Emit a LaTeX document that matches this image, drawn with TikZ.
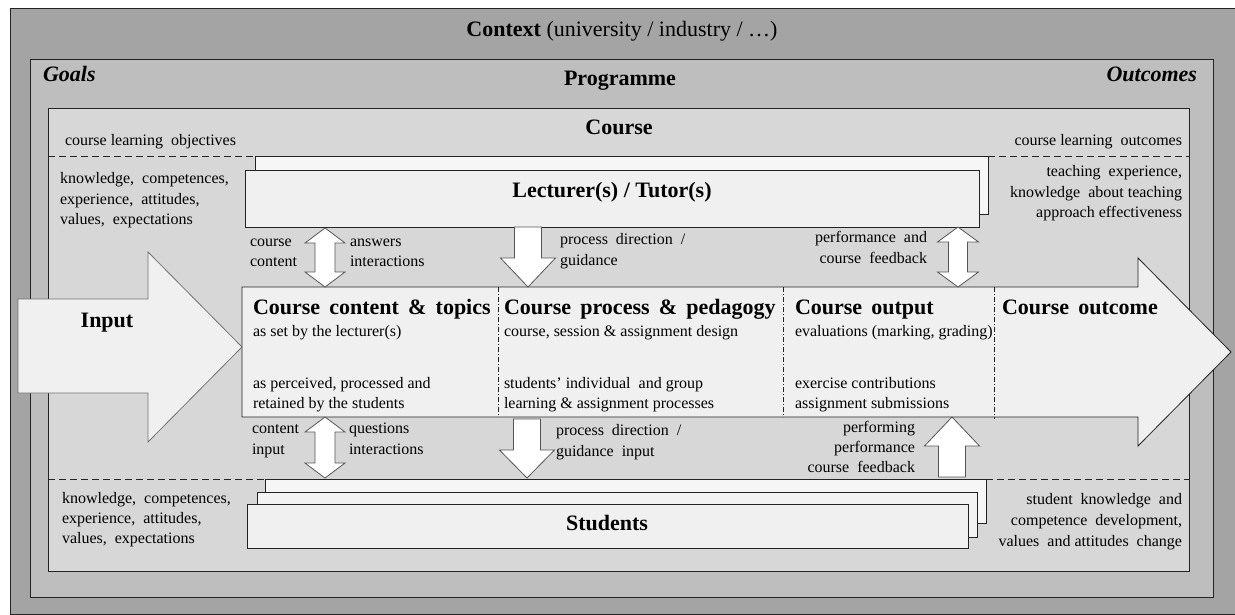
\documentclass[tikz,border=0pt]{standalone}
\usepackage{fontspec}
\setmainfont{Liberation Serif}
\usetikzlibrary{fit}
\definecolor{ctxc}{RGB}{164,164,164}
\definecolor{progc}{RGB}{190,190,190}
\definecolor{coursec}{RGB}{215,215,215}
\definecolor{boxc}{RGB}{240,240,240}
\definecolor{lnc}{RGB}{35,35,35}
\definecolor{arc}{RGB}{85,85,85}
% block arrows: x, ytop, ytip, shaft half, head half, head length
\newcommand\blkdown[6]{\draw[blk] (#1-#4,#2) -- (#1+#4,#2) -- (#1+#4,#3-#6) -- (#1+#5,#3-#6) -- (#1,#3) -- (#1-#5,#3-#6) -- (#1-#4,#3-#6) -- cycle;}
\newcommand\blkup[6]{\draw[blk] (#1,#2) -- (#1+#5,#2+#6) -- (#1+#4,#2+#6) -- (#1+#4,#3) -- (#1-#4,#3) -- (#1-#4,#2+#6) -- (#1-#5,#2+#6) -- cycle;}
\newcommand\blkboth[6]{\draw[blk] (#1,#2) -- (#1+#5,#2+#6) -- (#1+#4,#2+#6) -- (#1+#4,#3-#6) -- (#1+#5,#3-#6) -- (#1,#3) -- (#1-#5,#3-#6) -- (#1-#4,#3-#6) -- (#1-#4,#2+#6) -- (#1-#5,#2+#6) -- cycle;}
\begin{document}
\begin{tikzpicture}[x=1pt,y=-1pt,
  every node/.style={inner sep=0pt, outer sep=0pt},
  band/.style={draw=lnc, line width=0.9pt},
  rbox/.style={draw=lnc, fill=boxc, line width=0.8pt},
  blk/.style={draw=arc, fill=white, line width=0.8pt, line join=miter},
  sepline/.style={draw=lnc, dash pattern=on 7pt off 4pt, line width=0.9pt},
  divline/.style={draw=lnc, dash pattern=on 5pt off 2pt on 1pt off 2pt, line width=0.5pt},
  txt/.style={font=\fontsize{16}{20}\selectfont},
  txtw/.style={font=\fontsize{16}{21}\selectfont},
  ttl/.style={font=\fontsize{22}{26}\selectfont\bfseries}]
\useasboundingbox (0,0) rectangle (1235,615);
\fill[white] (0,0) rectangle (1235,615);
% bands
\node (ctx) [band, fill=ctxc, fit={(10,8) (1240,614)}] {};
\node (prog) [band, fill=progc, fit={(30,59) (1213,597)}] {};
\node (course) [band, fill=coursec, fit={(48,108) (1189,571)}] {};
% dashed separators
\coordinate (sepTL) at (48,156);
\coordinate (sepTR) at (1189,156);
\coordinate (sepBL) at (48,479);
\coordinate (sepBR) at (1189,479);
% lecturer boxes
\node (lectback) [rbox, fill=boxc!60!white, fit={(255,156) (988,214)}] {};
\node (lect) [rbox, fit={(245,170) (979,227)}] {};
\draw[sepline] (sepTL) -- (lectback.north west);
\draw[sepline] (lectback.north east) -- (sepTR);
% students boxes
\node (studback) [rbox, fill=boxc!60!white, fit={(265,479) (986,523)}] {};
\node (studmid) [rbox, fill=boxc!80!white, fit={(257,492) (977,537)}] {};
\node (stud) [rbox, fit={(247,504) (968,548)}] {};
\draw[sepline] (sepBL) -- (studback.north west);
\draw[sepline] (studback.north east) -- (sepBR);
% central course arrow
\draw[draw=lnc, fill=boxc, line width=0.8pt] (242,287) coordinate (cnw) -- (1138,287) -- (1138,258) -- (1231,352) coordinate (ctip) -- (1138,446) -- (1138,417) -- (242,417) coordinate (csw) -- cycle;
\coordinate (d1t) at (498,287); \coordinate (d1b) at (498,417);
\coordinate (d2t) at (783,287); \coordinate (d2b) at (783,417);
\coordinate (d3t) at (994,287); \coordinate (d3b) at (994,419);
\draw[divline] (d1t) -- (d1b);
\draw[divline] (d2t) -- (d2b);
\draw[divline] (d3t) -- (d3b);
% input arrow
\draw[draw=black!55, fill=boxc, line width=0.8pt] (18,299) -- (148,299) -- (148,252) -- (242,347) coordinate (intip) -- (148,442) -- (148,393) -- (18,393) -- cycle;
% block arrows between lecturer / course / students
\blkboth{325}{228}{287}{10}{20}{15}
\blkdown{528}{227}{287}{13.5}{27.5}{29}
\blkboth{958}{227}{287}{9.5}{20.5}{15}
\blkboth{325}{417}{478}{10}{20}{15}
\blkdown{527}{419}{478}{13.5}{27.5}{28}
\blkup{952}{417}{477}{13.5}{27.5}{29}
% titles
\node (tctx) [anchor=base] at (622,37) {\fontsize{22}{26}\selectfont\textbf{Context} (university / industry / …)};
\node (tprog) [ttl, anchor=base] at (620,86) {Programme};
\node (tcourse) [ttl, anchor=base] at (619,135) {Course};
\node (tgoals) [ttl, anchor=base west] at (43,82) {\itshape Goals};
\node (toutc) [ttl, anchor=base east] at (1197,82) {\itshape Outcomes};
\node (tlect) [ttl, anchor=base] at (612,197) {Lecturer(s) / Tutor(s)};
\node (tstud) [ttl, anchor=base] at (607,530) {Students};
\node (tinput) [ttl, anchor=base] at (107,327) {Input};
\node (tclo) [txt, anchor=base west] at (65,146) {course learning \ objectives};
\node (tclout) [txt, anchor=base east] at (1182,146) {course learning \ outcomes};
% side texts
\node (tl1) [txt, align=left, anchor=north west] at (60,170) {\strut knowledge, \ competences,\\experience, \ attitudes,\\values, \ expectations};
\node (tr1) [txt, align=right, anchor=north east] at (1182,163) {\strut teaching \ experience,\\knowledge \ about teaching\\approach effectiveness};
\node (tl2) [txt, align=left, anchor=north west] at (62,489) {\strut knowledge, \ competences,\\experience, \ attitudes,\\values, \ expectations};
\node (tr2) [txtw, align=right, anchor=north east] at (1182,490) {\strut student \ knowledge \ and\\competence \ development,\\values \ and attitudes \ change};
% arrow labels
\node (la1) [txt, align=left, anchor=north west] at (250,232) {\strut course\\content};
\node (la2) [txt, align=left, anchor=north west] at (350,232) {\strut answers\\interactions};
\node (la3) [txtw, align=left, anchor=north west] at (560,230) {\strut process \ direction \ /\\guidance};
\node (la4) [txtw, align=right, anchor=north east] at (927,228) {\strut performance \ and\\course \ feedback};
\node (la5) [txtw, align=left, anchor=north west] at (252,419) {\strut content\\input};
\node (la6) [txtw, align=left, anchor=north west] at (349,419) {\strut questions\\interactions};
\node (la7) [txtw, align=left, anchor=north west] at (556,421) {\strut process \ direction \ /\\guidance \ input};
\node (la8) [txt, align=right, anchor=north east] at (915,418) {\strut performing\\performance\\course \ feedback};
% column texts
\node (c1t) [ttl, anchor=base west] at (253,314) {Course \,content \,\& \,topics};
\node (c1a) [txt, anchor=base west] at (253,336) {as set by the lecturer(s)};
\node (c1b) [txt, align=left, anchor=north west] at (253,374) {\strut as perceived, processed and\\retained by the students};
\node (c2t) [ttl, anchor=base west] at (504,314) {Course \,process \,\& \,pedagogy};
\node (c2a) [txt, anchor=base west] at (504,336) {course, session \& assignment design};
\node (c2b) [txt, align=left, anchor=north west] at (504,374) {\strut students’ individual \ and group\\learning \& assignment processes};
\node (c3t) [ttl, anchor=base west] at (795,314) {Course \,output};
\node (c3a) [txt, anchor=base west] at (795,336) {evaluations (marking, grading)};
\node (c3b) [txt, align=left, anchor=north west] at (795,374) {\strut exercise contributions\\assignment submissions};
\node (c4t) [ttl, anchor=base west] at (1002,314) {Course \,outcome};
\end{tikzpicture}
\end{document}
